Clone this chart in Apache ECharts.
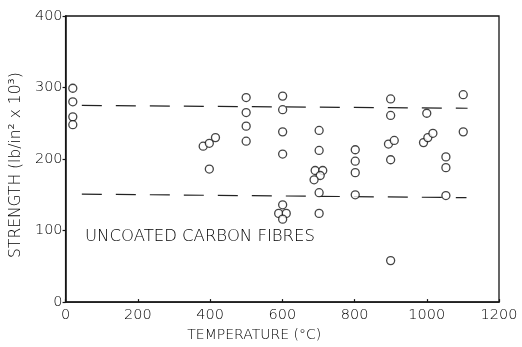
<!DOCTYPE html>
<html>
<head>
<meta charset="utf-8">
<script src="https://cdn.jsdelivr.net/npm/echarts@6/dist/echarts.min.js"></script>
<style>
  html, body { margin: 0; padding: 0; background: #fff; }
  #chart { width: 522px; height: 347px; }
</style>
</head>
<body>
<div id="chart"></div>
<script>
// Tensile strength of uncoated carbon fibres after heat treatment
const fibreTemps = [
  20, 20, 20, 20,
  381, 398, 415, 398,
  500, 500, 500, 500,
  601, 601, 601, 601, 601, 590, 611, 601,
  702, 702, 691, 712, 705, 688, 702, 702,
  802, 802, 802, 802,
  900, 900, 894, 910, 900, 900,
  1000, 991, 1003, 1017,
  1053, 1053, 1053,
  1101, 1101
];
const fibreStrengths = [
  299, 280, 259, 248,
  218, 222, 230, 186,
  286, 265, 246, 225,
  288, 269, 238, 207, 136, 124, 124, 116,
  240, 212, 184, 184, 177, 171, 153, 124,
  213, 197, 181, 150,
  284, 261, 221, 226, 199, 58,
  264, 223, 230, 236,
  203, 188, 149,
  290, 238
];

// Scatter-band limits (dashed)
const upperBandX = [45, 1113];
const upperBandY = [275, 271];
const lowerBandX = [45, 1110];
const lowerBandY = [151, 146];

const xTicks = [0, 200, 400, 600, 800, 1000, 1200];
const yTicks = [0, 100, 200, 300, 400];

const FONT = '"DejaVu Sans", sans-serif';
const WEIGHT = 200;
const INK = '#151515';
const TEXT = '#000';

const chart = echarts.init(document.getElementById('chart'), null, { renderer: 'canvas' });

const zip = (xs, ys) => xs.map((x, i) => [x, ys[i]]);

chart.setOption({
  animation: false,
  backgroundColor: '#fff',
  grid: {
    left: 65, right: 23, top: 16, bottom: 40,
    show: true, borderColor: INK, borderWidth: 1.3, backgroundColor: 'transparent'
  },
  xAxis: {
    type: 'value',
    min: xTicks[0], max: xTicks[xTicks.length - 1], interval: 200,
    name: 'TEMPERATURE (°C)',
    nameLocation: 'middle', nameGap: 23,
    nameTextStyle: { fontFamily: FONT, fontWeight: WEIGHT, fontSize: 14, color: TEXT, padding: [0, 56, 0, 0] },
    axisLine: { show: true, lineStyle: { color: INK, width: 1.5 } },
    axisTick: { show: true, inside: true, length: 3, lineStyle: { color: INK, width: 1.2 } },
    axisLabel: {
      fontFamily: FONT, fontWeight: WEIGHT, fontSize: 14.5, color: TEXT, margin: 6,
      formatter: (v) => String(v)
    },
    splitLine: { show: false }
  },
  yAxis: {
    type: 'value',
    min: yTicks[0], max: yTicks[yTicks.length - 1], interval: 100,
    name: 'STRENGTH (lb/in² x 10³)',
    nameLocation: 'middle', nameGap: 41,
    nameTextStyle: { fontFamily: FONT, fontWeight: WEIGHT, fontSize: 15.5, color: TEXT, padding: [0, 0, 0, -12] },
    axisLine: { show: true, lineStyle: { color: INK, width: 1.5 } },
    axisTick: { show: true, length: 3, lineStyle: { color: INK, width: 1.2 } },
    axisLabel: {
      fontFamily: FONT, fontWeight: WEIGHT, fontSize: 14.5, color: TEXT, margin: 3,
      formatter: (v) => String(v)
    },
    splitLine: { show: false }
  },
  graphic: [{
    type: 'text',
    left: 85, top: 228,
    style: { text: 'UNCOATED CARBON FIBRES', fontFamily: FONT, fontWeight: WEIGHT, fontSize: 16.5, fill: TEXT }
  }],
  series: [
    {
      type: 'line',
      data: zip(upperBandX, upperBandY),
      symbol: 'none',
      lineStyle: { color: '#222', width: 1.2, type: [20, 14] },
      z: 1
    },
    {
      type: 'line',
      data: zip(lowerBandX, lowerBandY),
      symbol: 'none',
      lineStyle: { color: '#222', width: 1.2, type: [20, 14] },
      z: 1
    },
    {
      type: 'scatter',
      data: zip(fibreTemps, fibreStrengths),
      symbol: 'circle',
      symbolSize: 8,
      itemStyle: { color: '#fff', borderColor: INK, borderWidth: 1.3 },
      z: 3
    }
  ]
});
</script>
</body>
</html>
